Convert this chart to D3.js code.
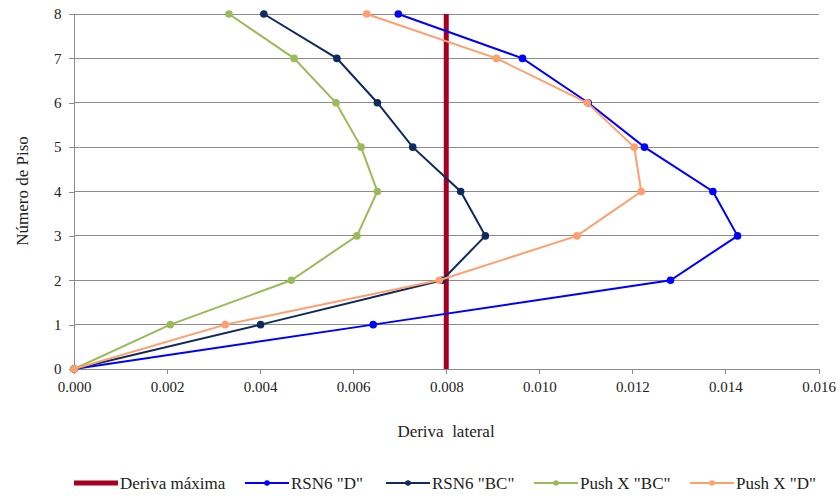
<!DOCTYPE html>
<html><head><meta charset="utf-8">
<script src="https://cdn.jsdelivr.net/npm/d3@7"></script>
<style>body{margin:0;background:#fff}svg{display:block}</style>
</head><body><svg id="c" width="840" height="497"></svg>
<script>
const floors = [0,1,2,3,4,5,6,7,8];
const derivaMax = 0.008;
const rsn6D   = [0,0.00643,0.01282,0.01426,0.01373,0.01226,0.01105,0.00964,0.00697];
const rsn6BC  = [0,0.00401,0.00791,0.00884,0.00831,0.00728,0.00652,0.00565,0.00408];
const pushBC  = [0,0.00207,0.00467,0.00608,0.00652,0.00617,0.00563,0.00473,0.00333];
const pushD   = [0,0.00325,0.00785,0.01081,0.01219,0.01204,0.01103,0.00908,0.00629];
const xTicks = [0,0.002,0.004,0.006,0.008,0.010,0.012,0.014,0.016];
const yTicks = [0,1,2,3,4,5,6,7,8];
const seriesNames = ['Deriva máxima','RSN6 "D"','RSN6 "BC"','Push X "BC"','Push X "D"'];
const colors = ['#A50021','#0000FF','#0F2A5C','#9BBB59','#FF9F6E'];
const FONT = '"Liberation Serif", "Times New Roman", serif';

const svg = d3.select('#c');
const x = d3.scaleLinear().domain([0,0.016]).range([74,818.5]);
const y = d3.scaleLinear().domain([0,8]).range([369,14]);

svg.append('g').selectAll('line').data(yTicks.slice(1)).join('line')
  .attr('x1',x(0)).attr('x2',x(0.016)).attr('y1',d=>y(d)).attr('y2',d=>y(d))
  .attr('stroke','#8c8c8c').attr('stroke-width',1).attr('shape-rendering','crispEdges');

const xa = svg.append('g').attr('transform',`translate(0,${y(0)})`)
  .call(d3.axisBottom(x).tickValues(xTicks).tickFormat(d3.format('.3f')).tickSize(5).tickSizeOuter(0));
const ya = svg.append('g').attr('transform',`translate(${x(0)},0)`)
  .call(d3.axisLeft(y).tickValues(yTicks).tickFormat(d3.format('d')).tickSize(5).tickSizeOuter(0));
[xa,ya].forEach(a=>{
  a.attr('font-family',FONT);
  a.selectAll('path,line').attr('stroke','#8c8c8c').attr('shape-rendering','crispEdges');
  a.selectAll('text').style('font-family',FONT).style('font-size','15px').attr('fill','#222');
});
xa.selectAll('text').attr('dy','1.0em');
ya.selectAll('text').attr('dx','-0.3em');

svg.append('line').attr('x1',x(derivaMax)).attr('x2',x(derivaMax)).attr('y1',y(0)).attr('y2',y(8))
  .attr('stroke',colors[0]).attr('stroke-width',5);

const line = d3.line().x(d=>x(d[0])).y(d=>y(d[1]));
[rsn6D,rsn6BC,pushBC,pushD].forEach((vals,i)=>{
  const pts = vals.map((v,j)=>[v,floors[j]]);
  const c = colors[i+1];
  svg.append('path').datum(pts).attr('d',line).attr('fill','none').attr('stroke',c).attr('stroke-width',2);
  svg.append('g').selectAll('circle').data(pts).join('circle')
    .attr('cx',d=>x(d[0])).attr('cy',d=>y(d[1])).attr('r',3.8).attr('fill',c);
});

svg.append('text').attr('x',446).attr('y',437).attr('text-anchor','middle')
  .style('font-family',FONT).style('font-size','17px').attr('fill','#222').attr('xml:space','preserve').text('Deriva  lateral');
svg.append('text').attr('transform','translate(28,191) rotate(-90)').attr('text-anchor','middle')
  .style('font-family',FONT).style('font-size','17px').attr('fill','#222').text('Número de Piso');

const legX = [74,245,386,534,690];
const lg = svg.append('g');
seriesNames.forEach((n,i)=>{
  const g = lg.append('g').attr('transform',`translate(${legX[i]},483)`);
  g.append('line').attr('x1',0).attr('x2',44).attr('y1',0).attr('y2',0)
    .attr('stroke',colors[i]).attr('stroke-width',i===0?5:2);
  if(i>0) g.append('circle').attr('cx',22).attr('cy',0).attr('r',2.8).attr('fill',colors[i]);
  g.append('text').attr('x',46).attr('y',5.5).style('font-family',FONT).style('font-size','17px').attr('fill','#222').text(n);
});
</script></body></html>
